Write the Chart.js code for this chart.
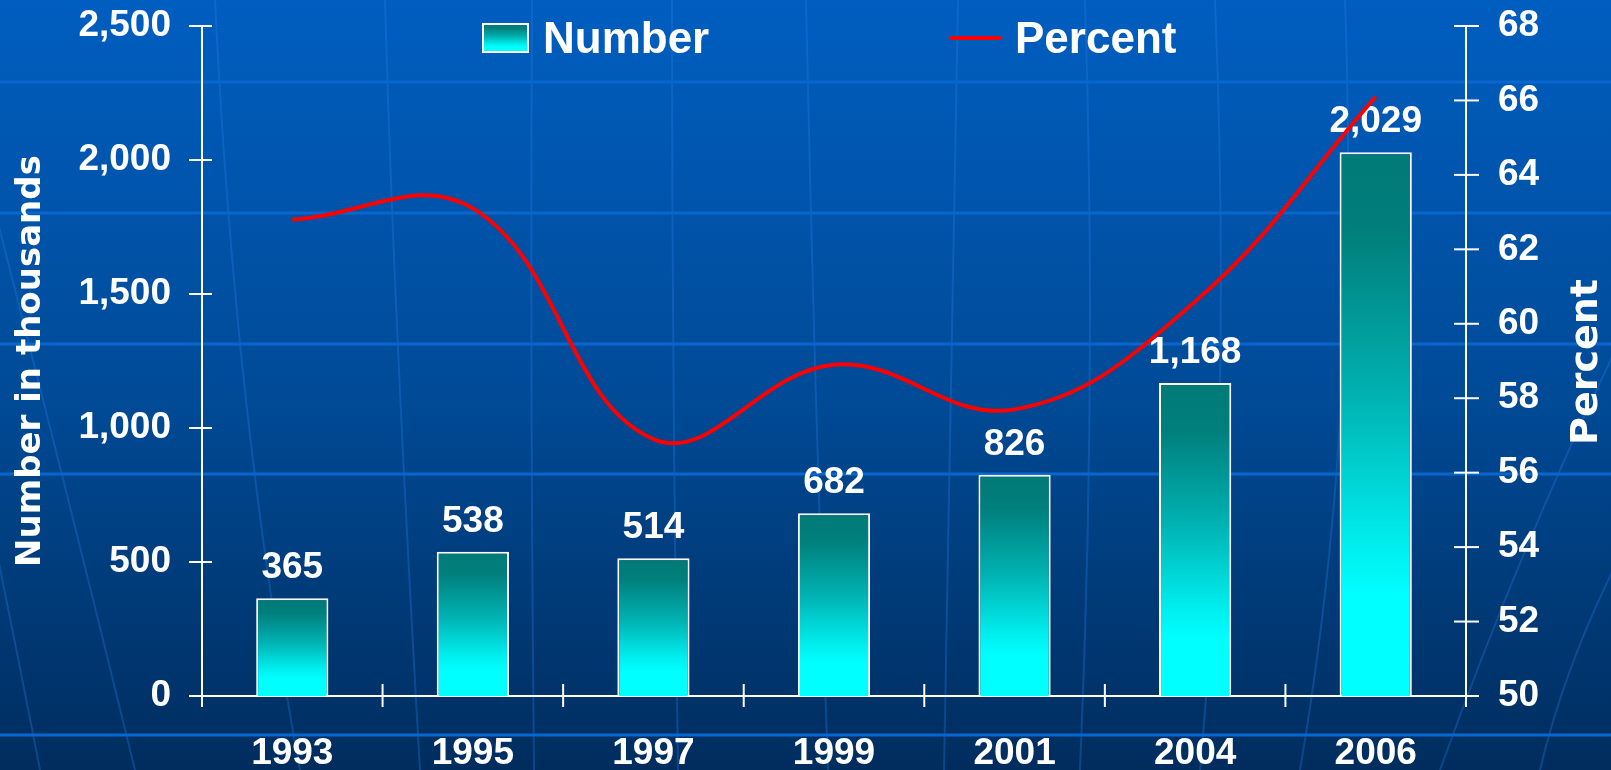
<!DOCTYPE html>
<html>
<head>
<meta charset="utf-8">
<script src="https://cdn.jsdelivr.net/npm/chart.js@4.4.0/dist/chart.umd.min.js"></script>
<style>
  html, body { margin: 0; padding: 0; background: #004080; }
  canvas { display: block; }
</style>
</head>
<body>
<canvas id="chart-1" width="1611" height="770"></canvas>
<script>
const years = ["1993", "1995", "1997", "1999", "2001", "2004", "2006"];
const numberThousands = [365, 538, 514, 682, 826, 1168, 2029];
const percentValues = [62.8, 63.1, 56.9, 58.9, 57.7, 60.6, 66.1];
const leftTicks = [0, 500, 1000, 1500, 2000, 2500];
const rightTicks = [50, 52, 54, 56, 58, 60, 62, 64, 66, 68];

const tickFont = { family: "'Liberation Sans', Arial, sans-serif", weight: "bold", size: 37 };

const barGradient = (c, top, bottom) => {
  const g = c.createLinearGradient(0, top, 0, bottom);
  g.addColorStop(0, "#007a77");
  g.addColorStop(0.15, "#007f7c");
  g.addColorStop(0.45, "#00b2b2");
  g.addColorStop(0.72, "#00eeee");
  g.addColorStop(0.82, "#00ffff");
  g.addColorStop(1, "#00ffff");
  return g;
};

// background + decorative lines
const backdrop = {
  id: "backdrop",
  beforeDraw(chart) {
    const c = chart.ctx;
    const W = chart.width, H = chart.height;
    c.save();
    const bg = c.createLinearGradient(0, 0, 0, H);
    bg.addColorStop(0, "#005ec0");
    bg.addColorStop(0.5, "#004b98");
    bg.addColorStop(1, "#002d5e");
    c.fillStyle = bg;
    c.fillRect(0, 0, W, H);

    c.strokeStyle = "rgba(40,130,235,0.3)";
    c.lineWidth = 2;
    const meridians = [
      [-120, 0, -20, 460, 40, 770],
      [-60, 0, 40, 380, 135, 770],
      [215, 0, 235, 420, 300, 770],
      [385, 0, 393, 300, 420, 770],
      [532, 0, 530, 380, 534, 770],
      [672, 0, 672, 380, 678, 770],
      [806, 0, 814, 380, 828, 770],
      [958, 0, 952, 380, 944, 770],
      [1085, 0, 1097, 380, 1080, 770],
      [1215, 0, 1232, 420, 1200, 770],
      [1345, 0, 1360, 420, 1300, 770],
      [1640, 300, 1530, 520, 1440, 770],
      [1700, 420, 1580, 600, 1540, 770]
    ];
    meridians.forEach(m => {
      c.beginPath();
      c.moveTo(m[0], m[1]);
      c.quadraticCurveTo(m[2], m[3], m[4], m[5]);
      c.stroke();
    });

    c.strokeStyle = "#0866cf";
    c.lineWidth = 3;
    [82, 213, 344, 474, 735].forEach(y => {
      c.beginPath();
      c.moveTo(0, y);
      c.lineTo(W, y);
      c.stroke();
    });
    c.restore();
  }
};

// value labels above bars
const barLabels = {
  id: "barLabels",
  afterDatasetDraw(chart, args) {
    if (args.index !== 0) return;
    const c = chart.ctx;
    c.save();
    c.fillStyle = "#ffffff";
    c.font = "bold 37px 'Liberation Sans', Arial, sans-serif";
    c.textAlign = "center";
    c.textBaseline = "alphabetic";
    args.meta.data.forEach((bar, i) => {
      c.fillText(numberThousands[i].toLocaleString("en-US"), bar.x, bar.y - 20);
    });
    c.restore();
  }
};

// crossing tick marks, right title, legend
const extras = {
  id: "extras",
  afterDraw(chart) {
    const c = chart.ctx;
    const { x, y, y1 } = chart.scales;
    c.save();
    c.strokeStyle = "#ffffff";
    c.lineWidth = 2;
    const seg = (a, b, d, e) => { c.beginPath(); c.moveTo(a, b); c.lineTo(d, e); c.stroke(); };
    y.ticks.forEach(t => {
      const py = y.getPixelForValue(t.value);
      seg(y.right - 13, py, y.right + 10, py);
    });
    y1.ticks.forEach(t => {
      const py = y1.getPixelForValue(t.value);
      seg(y1.left - 12, py, y1.left + 13, py);
    });
    const w = (x.right - x.left) / years.length;
    for (let i = 0; i <= years.length; i++) {
      const px = x.left + i * w;
      seg(px, x.top - 12, px, x.top + 11);
    }

    // right axis title, reading upward
    c.fillStyle = "#ffffff";
    c.font = "bold 38px 'DejaVu Sans', Verdana, sans-serif";
    c.textAlign = "center";
    c.textBaseline = "middle";
    c.translate(1587, 362);
    c.rotate(-Math.PI / 2);
    c.fillText("Percent", 0, 0);
    c.setTransform(1, 0, 0, 1, 0, 0);

    // legend
    const ds = chart.data.datasets;
    c.fillStyle = barGradient(c, 24, 52);
    c.fillRect(483, 24, 45, 28);
    c.strokeRect(483, 24, 45, 28);
    c.fillStyle = "#ffffff";
    c.font = "bold 44px 'Liberation Sans', Arial, sans-serif";
    c.textAlign = "left";
    c.textBaseline = "alphabetic";
    c.fillText(ds[0].label, 543, 53);
    c.strokeStyle = ds[1].borderColor;
    c.lineWidth = 4;
    seg(950, 38, 1002, 38);
    c.fillText(ds[1].label, 1015, 53);
    c.restore();
  }
};

const fitSide = (w) => (s) => {
  s.width = w;
  s.paddingTop = 0;
  s.paddingBottom = 0;
};

const ctx1 = document.getElementById("chart-1").getContext("2d");
const myChart = new Chart(ctx1, {
  data: {
    labels: years,
    datasets: [
      {
        type: "bar",
        label: "Number",
        data: numberThousands,
        yAxisID: "y",
        order: 1,
        backgroundColor: (context) => {
          const chart = context.chart;
          if (!chart.chartArea) return "#00cccc";
          const sy = chart.scales.y;
          return barGradient(chart.ctx, sy.getPixelForValue(context.raw), sy.getPixelForValue(0));
        },
        borderColor: "#ffffff",
        borderWidth: 2,
        borderSkipped: "bottom",
        barPercentage: 0.8,
        categoryPercentage: 0.5
      },
      {
        type: "line",
        label: "Percent",
        data: percentValues,
        yAxisID: "y1",
        order: 0,
        borderColor: "#ff0000",
        borderWidth: 4,
        tension: 0.4,
        pointRadius: 0,
        fill: false
      }
    ]
  },
  options: {
    responsive: false,
    animation: false,
    layout: { padding: { top: 26, left: 0, right: 0, bottom: 0 } },
    plugins: {
      legend: { display: false },
      tooltip: { enabled: false }
    },
    scales: {
      x: {
        grid: { display: false, drawTicks: false },
        border: { display: true, color: "#ffffff", width: 2 },
        ticks: { color: "#ffffff", font: tickFont, padding: 36 },
        afterFit: (s) => { s.height = 74; s.paddingLeft = 0; s.paddingRight = 0; }
      },
      y: {
        position: "left",
        min: 0,
        max: 2500,
        afterBuildTicks: (s) => { s.ticks = leftTicks.map(v => ({ value: v })); },
        grid: { display: false, drawTicks: false },
        border: { display: true, color: "#ffffff", width: 2 },
        ticks: {
          color: "#ffffff",
          font: tickFont,
          padding: 31,
          callback: (v) => Number(v).toLocaleString("en-US")
        },
        title: {
          display: true,
          text: "Number in thousands",
          color: "#ffffff",
          font: { family: "'DejaVu Sans', Verdana, sans-serif", weight: "bold", size: 34 },
          padding: { top: 11, bottom: 0 }
        },
        afterFit: fitSide(202)
      },
      y1: {
        position: "right",
        min: 50,
        max: 68,
        afterBuildTicks: (s) => { s.ticks = rightTicks.map(v => ({ value: v })); },
        grid: { display: false, drawTicks: false },
        border: { display: true, color: "#ffffff", width: 2 },
        ticks: { color: "#ffffff", font: tickFont, padding: 32 },
        afterFit: fitSide(145)
      }
    }
  },
  plugins: [backdrop, barLabels, extras]
});
</script>
</body>
</html>
